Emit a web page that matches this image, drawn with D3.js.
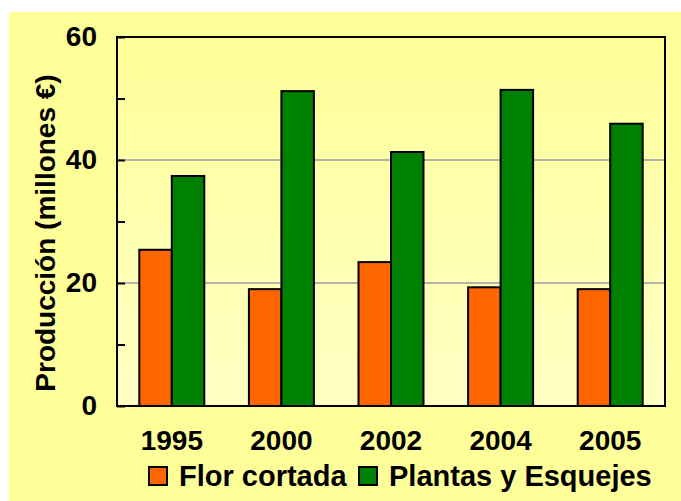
<!DOCTYPE html>
<html>
<head>
<meta charset="utf-8">
<script src="https://cdn.jsdelivr.net/npm/d3@7"></script>
<style>
  html, body { margin: 0; padding: 0; background: #fff; }
  svg { display: block; font-family: Arial, "Liberation Sans", sans-serif; font-weight: bold; }
</style>
</head>
<body>
<div id="chart"></div>
<script>
// datos
const years = ["1995", "2000", "2002", "2004", "2005"];
const series = ["Flor cortada", "Plantas y Esquejes"];
const florCortada = [25.4, 19.0, 23.4, 19.3, 19.0];
const plantasEsquejes = [37.4, 51.2, 41.3, 51.4, 45.9];
const yTicks = [0, 10, 20, 30, 40, 50, 60];
const yLabels = [0, 20, 40, 60];
const gridValues = [20, 40];
const colors = ["#FF6600", "#008000"];

const W = 681, H = 501;
const margin = { top: 37, right: 16, bottom: 95, left: 117 };
const width = W - margin.left - margin.right;   // 548
const height = H - margin.top - margin.bottom;  // 369

const svg = d3.select("#chart").append("svg")
    .attr("width", W)
    .attr("height", H);

// fondo amarillo
svg.append("rect")
    .attr("x", 9).attr("y", 12)
    .attr("width", W - 9).attr("height", H - 12)
    .attr("fill", "#FFFF99");

const defs = svg.append("defs");
const grad = defs.append("linearGradient")
    .attr("id", "plotBg")
    .attr("x1", 0).attr("y1", 0).attr("x2", 0).attr("y2", 1);
grad.append("stop").attr("offset", "0%").attr("stop-color", "#FFFF99");
grad.append("stop").attr("offset", "100%").attr("stop-color", "#FFFFC4");

const g = svg.append("g")
    .attr("transform", `translate(${margin.left},${margin.top})`);

g.append("rect")
    .attr("width", width).attr("height", height)
    .attr("fill", "url(#plotBg)");

// escalas
const x0 = d3.scaleBand()
    .domain(years)
    .range([0, width])
    .paddingInner(0.407)
    .paddingOuter(0.2035);

const x1 = d3.scaleBand()
    .domain(series)
    .range([0, x0.bandwidth()]);

const y = d3.scaleLinear()
    .domain([0, 60])
    .range([height, 0]);

// líneas de cuadrícula
g.selectAll(".grid")
    .data(gridValues)
    .join("line")
    .attr("class", "grid")
    .attr("x1", 0).attr("x2", width)
    .attr("y1", d => y(d)).attr("y2", d => y(d))
    .attr("stroke", "#9a9aa8")
    .attr("stroke-width", 1.5);

// barras
const rows = years.map((yr, i) => ({ year: yr, values: [florCortada[i], plantasEsquejes[i]] }));

const groups = g.selectAll(".grupo")
    .data(rows)
    .join("g")
    .attr("class", "grupo")
    .attr("transform", d => `translate(${x0(d.year)},0)`);

groups.selectAll("rect")
    .data(d => d.values.map((v, j) => ({ key: series[j], value: v, color: colors[j] })))
    .join("rect")
    .attr("x", d => x1(d.key))
    .attr("y", d => y(d.value))
    .attr("width", x1.bandwidth())
    .attr("height", d => height - y(d.value))
    .attr("fill", d => d.color)
    .attr("stroke", "#000")
    .attr("stroke-width", 2);

// marco
g.append("rect")
    .attr("width", width).attr("height", height)
    .attr("fill", "none")
    .attr("stroke", "#000")
    .attr("stroke-width", 2);

// eje Y
const yAxis = g.append("g")
    .call(d3.axisLeft(y)
        .tickValues(yTicks)
        .tickSize(-8)
        .tickPadding(20)
        .tickFormat(d => yLabels.includes(d) ? d : ""));
yAxis.select(".domain").remove();
yAxis.selectAll(".tick line").attr("stroke", "#000").attr("stroke-width", 2);
yAxis.selectAll(".tick text")
    .attr("fill", "#000")
    .style("font-size", "28px")
    .style("font-family", "Arial, 'Liberation Sans', sans-serif")
    .style("font-weight", "bold");

// eje X (solo etiquetas)
const xAxis = g.append("g")
    .attr("transform", `translate(0,${height})`)
    .call(d3.axisBottom(d3.scaleBand().domain(years).range([0, width])).tickSize(0).tickPadding(24));
xAxis.select(".domain").remove();
xAxis.selectAll(".tick text")
    .attr("fill", "#000")
    .style("font-size", "28px")
    .style("font-family", "Arial, 'Liberation Sans', sans-serif")
    .style("font-weight", "bold");

// título eje Y
svg.append("text")
    .attr("transform", "translate(55,233) rotate(-90)")
    .attr("text-anchor", "middle")
    .style("font-size", "28px")
    .text("Producción (millones €)");

// leyenda
const legendX = [149, 359];
const legend = svg.selectAll(".leyenda")
    .data(series)
    .join("g")
    .attr("class", "leyenda")
    .attr("transform", (d, i) => `translate(${legendX[i]},467)`);

legend.append("rect")
    .attr("width", 18).attr("height", 18)
    .attr("fill", (d, i) => colors[i])
    .attr("stroke", "#000")
    .attr("stroke-width", 2);

legend.append("text")
    .attr("x", 30).attr("y", 19)
    .style("font-size", "29px")
    .text(d => d);
</script>
</body>
</html>
